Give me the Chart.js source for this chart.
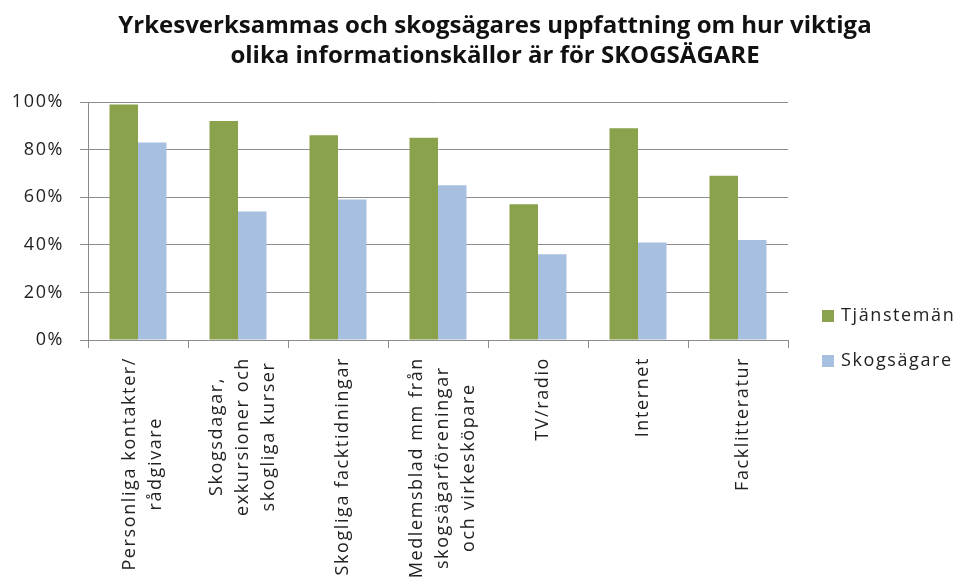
<!DOCTYPE html>
<html>
<head>
<meta charset="utf-8">
<script src="https://cdn.jsdelivr.net/npm/chart.js@4"></script>
<style>
  html, body { margin: 0; padding: 0; background: #fff; }
  #wrap { width: 959px; height: 581px; }
</style>
</head>
<body>
<div id="wrap"><canvas id="myChart" width="959" height="581"></canvas></div>
<script>
const categories = [
  ['Personliga kontakter/', 'rådgivare'],
  ['Skogsdagar,', 'exkursioner och', 'skogliga kurser'],
  'Skogliga facktidningar',
  ['Medlemsblad mm från', 'skogsägarföreningar', 'och virkesköpare'],
  'TV/radio',
  'Internet',
  'Facklitteratur'
];
const tjansteman = [99, 92, 86, 85, 57, 89, 69];
const skogsagare = [83, 54, 59, 65, 36, 41, 42];
const yTicks = [0, 20, 40, 60, 80, 100];
const titleLines = ['Yrkesverksammas och skogsägares uppfattning om hur viktiga',
                    'olika informationskällor är för SKOGSÄGARE'];

const green = '#8aa24b';
const blue = '#a7c0df';
const font = "'Open Sans', sans-serif";
const spacing = '1.6px';

// the original text is spaced out a bit, canvas letterSpacing gets close
const spaced = {
  id: 'spaced',
  beforeLayout(chart) { chart.ctx.letterSpacing = spacing; },
  beforeDraw(chart) { chart.ctx.letterSpacing = spacing; }
};

// title, legend and the rotated category labels drawn by hand:
// the original centres each wrapped line on the longest one
const extras = {
  id: 'extras',
  afterDraw(chart) {
    const c = chart.ctx;
    const xs = chart.scales.x;
    c.save();
    c.letterSpacing = '0px';
    c.fillStyle = '#111';
    c.font = 'bold 24px ' + font;
    c.textAlign = 'center';
    c.textBaseline = 'alphabetic';
    titleLines.forEach((t, i) => c.fillText(t, 495, 33 + i * 30));

    c.letterSpacing = spacing;
    c.font = '18px ' + font;
    c.fillStyle = '#222';
    c.textBaseline = 'middle';
    chart.data.labels.forEach((lab, i) => {
      const lines = Array.isArray(lab) ? lab : [lab];
      const w = Math.max(...lines.map(l => c.measureText(l).width));
      const cy = xs.bottom - 241 + 17 + w / 2;
      const cx = xs.getPixelForValue(i) + 5;
      lines.forEach((l, j) => {
        c.save();
        c.translate(cx + (j - (lines.length - 1) / 2) * 26, cy);
        c.rotate(-Math.PI / 2);
        c.textAlign = 'center';
        c.fillText(l, 0, 0);
        c.restore();
      });
    });

    c.textAlign = 'left';
    chart.data.datasets.forEach((ds, i) => {
      const y = 316 + i * 45;
      c.fillStyle = ds.backgroundColor;
      c.fillRect(822, y - 6, 12, 12);
      c.fillStyle = '#222';
      c.fillText(ds.label, 841, y);
    });
    c.restore();
  }
};

const ctx = document.getElementById('myChart');

new Chart(ctx, {
  type: 'bar',
  data: {
    labels: categories,
    datasets: [{
      label: 'Tjänstemän',
      data: tjansteman,
      backgroundColor: green
    }, {
      label: 'Skogsägare',
      data: skogsagare,
      backgroundColor: blue
    }]
  },
  options: {
    responsive: false,
    animation: false,
    layout: { padding: { left: 0, right: 171, top: 102, bottom: 0 } },
    datasets: {
      bar: { categoryPercentage: 0.57, barPercentage: 1.0 }
    },
    plugins: {
      legend: { display: false },
      tooltip: { enabled: false },
      title: { display: false }
    },
    scales: {
      x: {
        afterFit(scale) { scale.height = 241; },
        grid: { drawOnChartArea: false, color: '#8c8c8c', tickLength: 8, offset: true },
        border: { color: '#8c8c8c' },
        ticks: { display: false }
      },
      y: {
        min: 0,
        max: 100,
        afterFit(scale) { scale.width = 88; },
        afterBuildTicks(scale) { scale.ticks = yTicks.map(v => ({ value: v })); },
        grid: { color: '#8c8c8c', tickLength: 8 },
        border: { color: '#8c8c8c' },
        ticks: {
          color: '#222',
          padding: 16,
          font: { family: font, size: 18 },
          callback: v => v + '%'
        }
      }
    }
  },
  plugins: [spaced, extras]
});
</script>
</body>
</html>
